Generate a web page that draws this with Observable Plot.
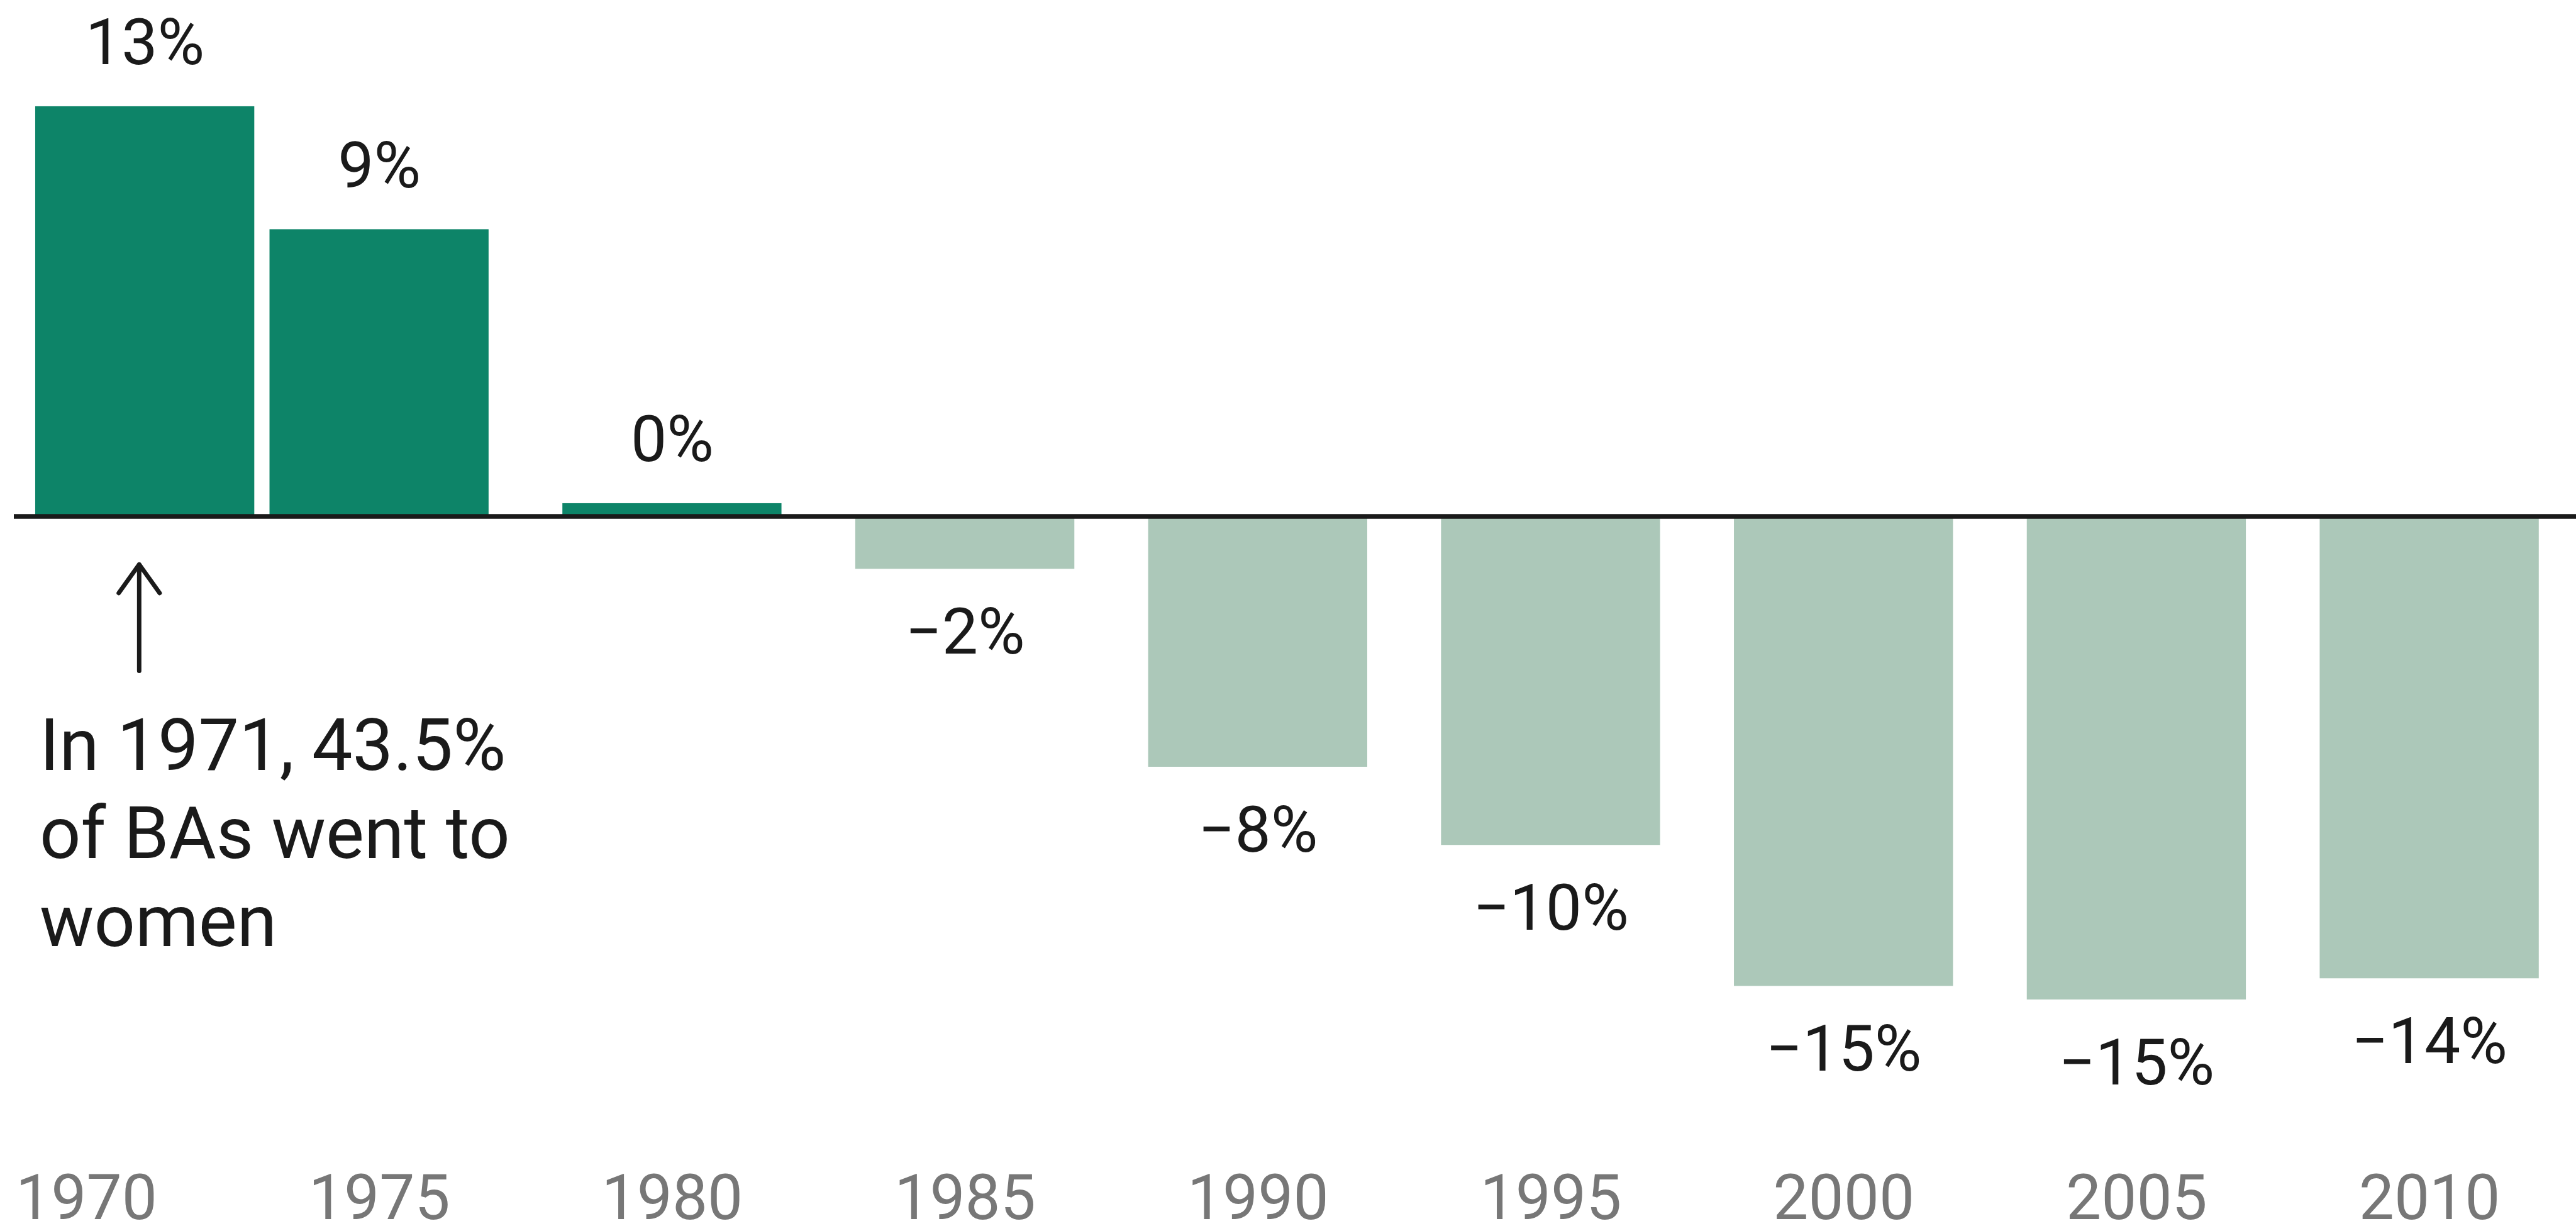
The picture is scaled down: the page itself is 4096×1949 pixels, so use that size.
<!DOCTYPE html>
<html>
<head>
<meta charset="utf-8">
<script src="https://cdn.jsdelivr.net/npm/d3@7"></script>
<script src="https://cdn.jsdelivr.net/npm/@observablehq/plot@0.6"></script>
<style>
  html, body { margin: 0; padding: 0; background: #fff; }
  #chart svg { display: block; }
</style>
</head>
<body>
<div id="chart"></div>
<script>
// ---- data ----
const years = [1971, 1975, 1980, 1985, 1990, 1995, 2000, 2005, 2010];
const values = [13.0, 9.10, 0.41, -1.67, -7.95, -10.43, -14.90, -15.33, -14.66];
const valueLabels = ["13%", "9%", "0%", "\u22122%", "\u22128%", "\u221210%", "\u221215%", "\u221215%", "\u221214%"];
const tickYears = [1970, 1975, 1980, 1985, 1990, 1995, 2000, 2005, 2010];
const noteLines = ["In 1971, 43.5%", "of BAs went to", "women"];
const noteAnchor = [{x: 1969.2, y: -6.05}];
const arrowSpan = [{x: 1970.9, y1: -4.9, y2: -1.52}];

// ---- styling ----
const darkGreen = "#0d8468";
const lightGreen = "#acc8b9";
const ink = "#1a1a1a";
const tickGray = "#777777";
const barHalf = 1.87; // half bar width in years

const data = years.map((year, i) => ({year, value: values[i], label: valueLabels[i]}));

const W = 4096, H = 1949;
const x0 = 137, perYear = 93.14;         // pixel position of 1970, px per year
const y0 = 820.5, perPct = 50.12;        // pixel position of 0%, px per percentage point

const chart = Plot.plot({
  width: W,
  height: H,
  marginLeft: 22,
  marginRight: 0,
  marginTop: 0,
  marginBottom: 90,
  style: {fontFamily: "Roboto, 'Noto Sans', sans-serif", background: "#fff"},
  x: {domain: [1970, 2010], range: [x0, x0 + 40 * perYear]},
  y: {axis: null, domain: [-16, 14], range: [y0 + 16 * perPct, y0 - 14 * perPct]},
  marks: [
    Plot.rectY(data, {
      x1: d => d.year - barHalf,
      x2: d => d.year + barHalf,
      y: "value",
      fill: d => d.value > 0 ? darkGreen : lightGreen
    }),
    Plot.ruleY([0], {stroke: ink, strokeWidth: 7.7}),
    Plot.text(data.filter(d => d.value > 0), {
      x: "year", y: "value", text: "label",
      lineAnchor: "bottom", dy: -67,
      fontSize: 102, fill: ink
    }),
    Plot.text(data.filter(d => d.value <= 0), {
      x: "year", y: "value", text: "label",
      lineAnchor: "top", dy: 62,
      fontSize: 102, fill: ink
    }),
    Plot.arrow(arrowSpan, {
      x: "x", y1: "y1", y2: "y2",
      stroke: ink, strokeWidth: 7, headLength: 12, headAngle: 71
    }),
    Plot.text(noteAnchor, {
      x: "x", y: "y", text: () => noteLines.join("\n"),
      textAnchor: "start", lineAnchor: "top", lineHeight: 1.22,
      fontSize: 115, fill: ink
    }),
    Plot.axisX({
      ticks: tickYears,
      tickFormat: d => String(d),
      tickSize: 0,
      tickPadding: 7.5,
      fontSize: 100,
      fill: tickGray,
      label: null
    })
  ]
});

document.getElementById("chart").appendChild(chart);
</script>
</body>
</html>
